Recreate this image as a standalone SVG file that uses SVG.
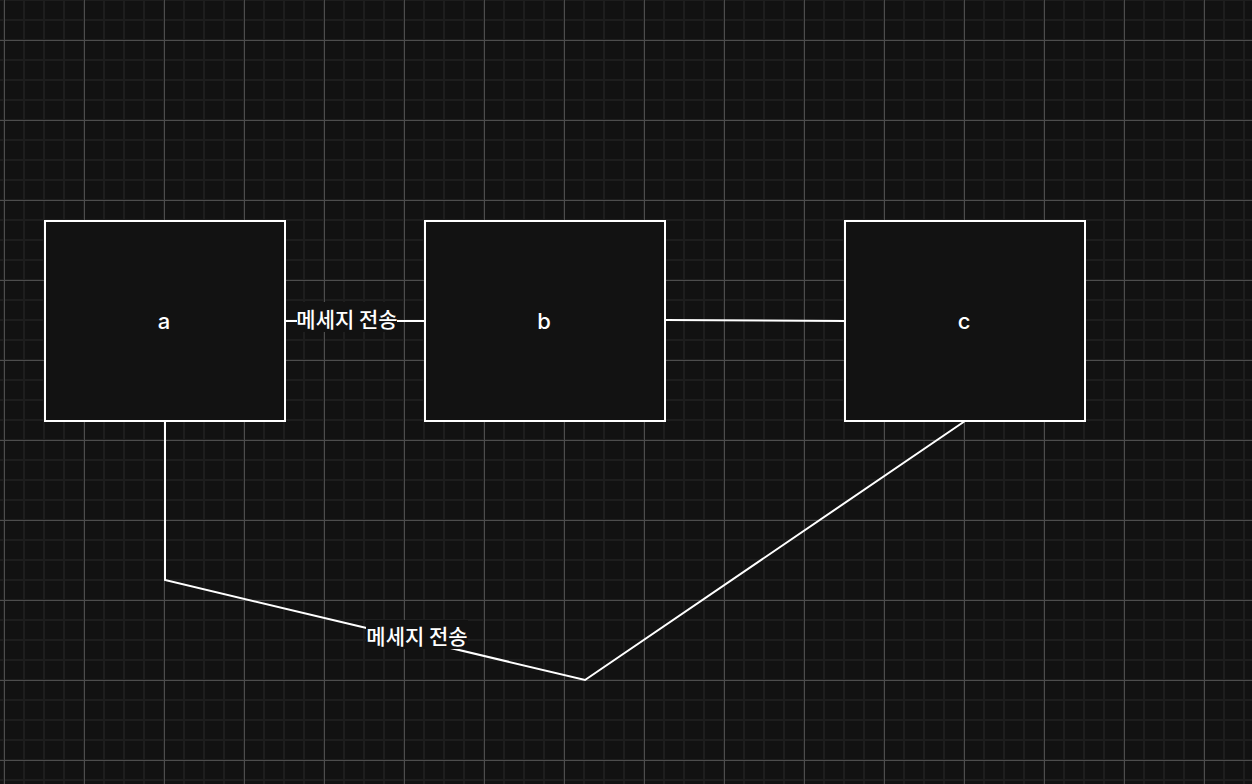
<svg xmlns="http://www.w3.org/2000/svg" width="1252" height="784" viewBox="0 0 1252 784">
  <defs>
    <pattern id="minor" x="3" y="-1" width="20" height="20" patternUnits="userSpaceOnUse">
      <rect x="0" y="0" width="2" height="20" fill="#1e1e1e"/>
      <rect x="0" y="0" width="20" height="2" fill="#1e1e1e"/>
    </pattern>
    <pattern id="major" x="4" y="40" width="80" height="80" patternUnits="userSpaceOnUse">
      <rect x="0" y="0" width="1" height="80" fill="#4d4d4d"/>
      <rect x="0" y="0" width="80" height="1" fill="#4d4d4d"/>
    </pattern>
    <style>
      .box { fill: #121212; stroke: #ffffff; stroke-width: 2; }
      .lbl { fill: #ffffff; font-family: Inter, "Liberation Sans", sans-serif; font-size: 22px; font-weight: 500; text-anchor: middle; dominant-baseline: central; }
      .edge { fill: none; stroke: #ffffff; stroke-width: 2; stroke-linejoin: miter; }
      .elbl { fill: #ffffff; font-family: "Noto Sans CJK KR", "Noto Sans", sans-serif; font-size: 21px; font-weight: 500; text-anchor: middle; dominant-baseline: central; }
      .ebg { fill: #121212; }
    </style>
  </defs>
  <rect width="1252" height="784" fill="#121212"/>
  <rect width="1252" height="784" fill="url(#minor)"/>
  <rect width="1252" height="784" fill="url(#major)"/>

  <g id="connectors">
    <g id="edge-a-b">
      <line class="edge" x1="285" y1="321" x2="425" y2="321"/>
      <rect class="ebg" x="297" y="302" width="100" height="30"/>
      <text class="elbl" x="347" y="318">메세지 전송</text>
    </g>
    <g id="edge-b-c">
      <line class="edge" x1="665" y1="320" x2="845" y2="321"/>
    </g>
    <g id="edge-a-c">
      <polyline class="edge" points="165,421 165,580 585,680 965,421"/>
      <rect class="ebg" x="366" y="620" width="102" height="29"/>
      <text class="elbl" x="417" y="635">메세지 전송</text>
    </g>
  </g>

  <g id="node-a">
    <rect class="box" x="45" y="221" width="240" height="200"/>
    <text class="lbl" x="164" y="321">a</text>
  </g>
  <g id="node-b">
    <rect class="box" x="425" y="221" width="240" height="200"/>
    <text class="lbl" x="544" y="321">b</text>
  </g>
  <g id="node-c">
    <rect class="box" x="845" y="221" width="240" height="200"/>
    <text class="lbl" x="964" y="321">c</text>
  </g>
</svg>
